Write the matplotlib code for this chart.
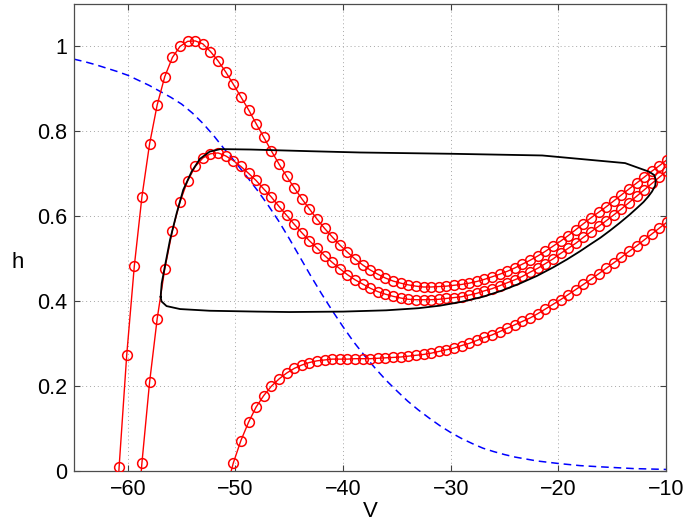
import matplotlib
matplotlib.use("Agg")
import matplotlib.pyplot as plt

# Membrane potential grid of the marker points (mV)
V_grid = [-61.515, -60.808, -60.101, -59.394, -58.687, -57.980, -57.273, -56.566,
          -55.859, -55.152, -54.444, -53.737, -53.030, -52.323, -51.616, -50.909,
          -50.202, -49.495, -48.788, -48.081, -47.374, -46.667, -45.960, -45.253,
          -44.545, -43.838, -43.131, -42.424, -41.717, -41.010, -40.303, -39.596,
          -38.889, -38.182, -37.475, -36.768, -36.061, -35.354, -34.646, -33.939,
          -33.232, -32.525, -31.818, -31.111, -30.404, -29.697, -28.990, -28.283,
          -27.576, -26.869, -26.162, -25.455, -24.747, -24.040, -23.333, -22.626,
          -21.919, -21.212, -20.505, -19.798, -19.091, -18.384, -17.677, -16.970,
          -16.263, -15.556, -14.848, -14.141, -13.434, -12.727, -12.020, -11.313,
          -10.606, -9.899]

# Upper red nullcline (starts at V_grid[0])
h_null1 = [-0.30, 0.009, 0.273, 0.483, 0.646, 0.770, 0.862, 0.929, 0.974, 1.000,
           1.012, 1.013, 1.006, 0.988, 0.966, 0.940, 0.911, 0.881, 0.851, 0.818,
           0.786, 0.754, 0.723, 0.694, 0.667, 0.641, 0.617, 0.593, 0.571, 0.551,
           0.532, 0.515, 0.499, 0.485, 0.473, 0.463, 0.454, 0.447, 0.442, 0.438,
           0.435, 0.433, 0.433, 0.434, 0.435, 0.437, 0.439, 0.442, 0.446, 0.451,
           0.457, 0.463, 0.470, 0.478, 0.487, 0.496, 0.506, 0.517, 0.529, 0.541,
           0.554, 0.568, 0.582, 0.596, 0.609, 0.622, 0.636, 0.650, 0.664, 0.678,
           0.692, 0.706, 0.719, 0.733]

# Middle red nullcline (starts at V_grid[3])
h_null2 = [-0.20, 0.019, 0.208, 0.358, 0.476, 0.566, 0.634, 0.683, 0.717, 0.737,
           0.747, 0.749, 0.742, 0.731, 0.717, 0.701, 0.684, 0.664, 0.645, 0.623,
           0.602, 0.581, 0.561, 0.542, 0.525, 0.507, 0.491, 0.476, 0.462, 0.450,
           0.440, 0.430, 0.422, 0.416, 0.411, 0.407, 0.404, 0.403, 0.403, 0.403,
           0.404, 0.406, 0.408, 0.410, 0.414, 0.418, 0.424, 0.429, 0.436, 0.443,
           0.450, 0.458, 0.468, 0.477, 0.488, 0.499, 0.512, 0.524, 0.536, 0.550,
           0.563, 0.576, 0.589, 0.603, 0.617, 0.632, 0.647, 0.662, 0.677, 0.692,
           0.707]

# Lower red nullcline (starts at V_grid[15])
h_null3 = [-0.05, 0.018, 0.071, 0.114, 0.150, 0.177, 0.199, 0.216, 0.230, 0.241,
           0.249, 0.255, 0.259, 0.261, 0.263, 0.263, 0.263, 0.264, 0.264, 0.264,
           0.265, 0.266, 0.267, 0.268, 0.270, 0.272, 0.274, 0.277, 0.281, 0.285,
           0.289, 0.295, 0.300, 0.307, 0.314, 0.320, 0.328, 0.336, 0.344, 0.352,
           0.360, 0.370, 0.381, 0.392, 0.403, 0.415, 0.427, 0.439, 0.451, 0.464,
           0.477, 0.490, 0.503, 0.517, 0.530, 0.544, 0.558, 0.572, 0.586]

# Blue dashed steady-state curve
V_inf = [-65, -64, -63, -62, -61, -60, -59, -58, -57, -56, -55, -54, -53, -52,
         -51, -50, -49, -48, -47, -46, -45, -44, -43, -42, -41, -40, -39, -38,
         -37, -36, -35, -34, -33, -32, -31, -30, -29, -28, -27, -26, -25, -24,
         -22, -20, -18, -16, -13, -10]
h_inf = [0.970, 0.964, 0.957, 0.949, 0.941, 0.932, 0.920, 0.908, 0.894, 0.880,
         0.864, 0.843, 0.818, 0.789, 0.757, 0.727, 0.695, 0.662, 0.627, 0.589,
         0.547, 0.503, 0.459, 0.417, 0.377, 0.339, 0.303, 0.271, 0.241, 0.213,
         0.188, 0.164, 0.143, 0.124, 0.106, 0.090, 0.076, 0.064, 0.053, 0.045,
         0.038, 0.032, 0.023, 0.017, 0.012, 0.009, 0.005, 0.003]

# Black closed trajectory (limit cycle)
V_cycle = [-56.95, -56.85, -56.5, -56.08, -55.46, -54.85, -54.07, -53.3, -52.4,
           -51.4, -48.6, -43.0, -38.4, -30.0, -21.5, -13.8, -11.6, -11.1, -10.95,
           -11.0, -11.3, -11.65, -12.1, -12.7, -13.4, -14.3, -15.2, -16.1, -17.0,
           -18.0, -19.2, -20.5, -22.0, -23.6, -25.3, -27.0, -29.0, -31.0, -33.0,
           -36.0, -40.0, -45.0, -48.0, -52.4, -55.15, -56.4, -56.87, -56.95]
h_cycle = [0.41, 0.442, 0.489, 0.544, 0.607, 0.662, 0.705, 0.735, 0.752,
           0.758, 0.757, 0.753, 0.750, 0.747, 0.743, 0.725, 0.705, 0.697, 0.686,
           0.672, 0.658, 0.646, 0.633, 0.619, 0.603, 0.584, 0.566, 0.549, 0.534,
           0.517, 0.498, 0.479, 0.459, 0.441, 0.424, 0.410, 0.398, 0.389, 0.383,
           0.378, 0.375, 0.374, 0.375, 0.377, 0.381, 0.388, 0.399, 0.41]

x_ticks = [-60, -50, -40, -30, -20, -10]
x_ticklabels = ["\u221260", "\u221250", "\u221240", "\u221230", "\u221220", "\u221210"]
y_ticks = [0, 0.2, 0.4, 0.6, 0.8, 1.0]
y_ticklabels = ["0", "0.2", "0.4", "0.6", "0.8", "1"]

plt.rcParams['font.family'] = ['Liberation Sans', 'DejaVu Sans']

fig = plt.figure(figsize=(6.85, 5.29), dpi=100)
ax = fig.add_axes([74/685, 1 - 470.7/529, (666-74)/685, (470.7-4)/529])

V2 = V_grid[3:]
V3 = V_grid[15:]

mk = dict(marker='o', markersize=7.0, markerfacecolor='none',
          markeredgecolor='red', markeredgewidth=1.1, color='red', linewidth=1.0)
ax.plot(V_grid, h_null1, **mk, zorder=3)
ax.plot(V2, h_null2, **mk, zorder=3)
ax.plot(V3, h_null3, **mk, zorder=3)
ax.plot(V_inf, h_inf, color='blue', linestyle=(0, (5, 3.2)), linewidth=1.1, zorder=2)
ax.plot(V_cycle, h_cycle, color='black', linewidth=1.3, zorder=4)

ax.set_xlim(-65, -10)
ax.set_ylim(0, 1.1)
ax.set_xticks(x_ticks)
ax.set_xticklabels(x_ticklabels)
ax.set_yticks(y_ticks)
ax.set_yticklabels(y_ticklabels)

ax.grid(True, linestyle=(0, (1, 3)), color='0.65', linewidth=0.7)
ax.tick_params(direction='in', length=4, width=0.8, top=True, right=True,
               labelsize=15.5, color='0.25')
ax.tick_params(axis='x', pad=6)
ax.tick_params(axis='y', pad=5)
for s in ax.spines.values():
    s.set_color('0.3')
    s.set_linewidth(0.9)

ax.set_xlabel('V', fontsize=16, labelpad=1)
ax.set_ylabel('h', fontsize=16, rotation=0, va='center')
ax.yaxis.set_label_coords(-0.095, (470.7 - 262) / 466.7)

fig.savefig('out.png', dpi=100)
